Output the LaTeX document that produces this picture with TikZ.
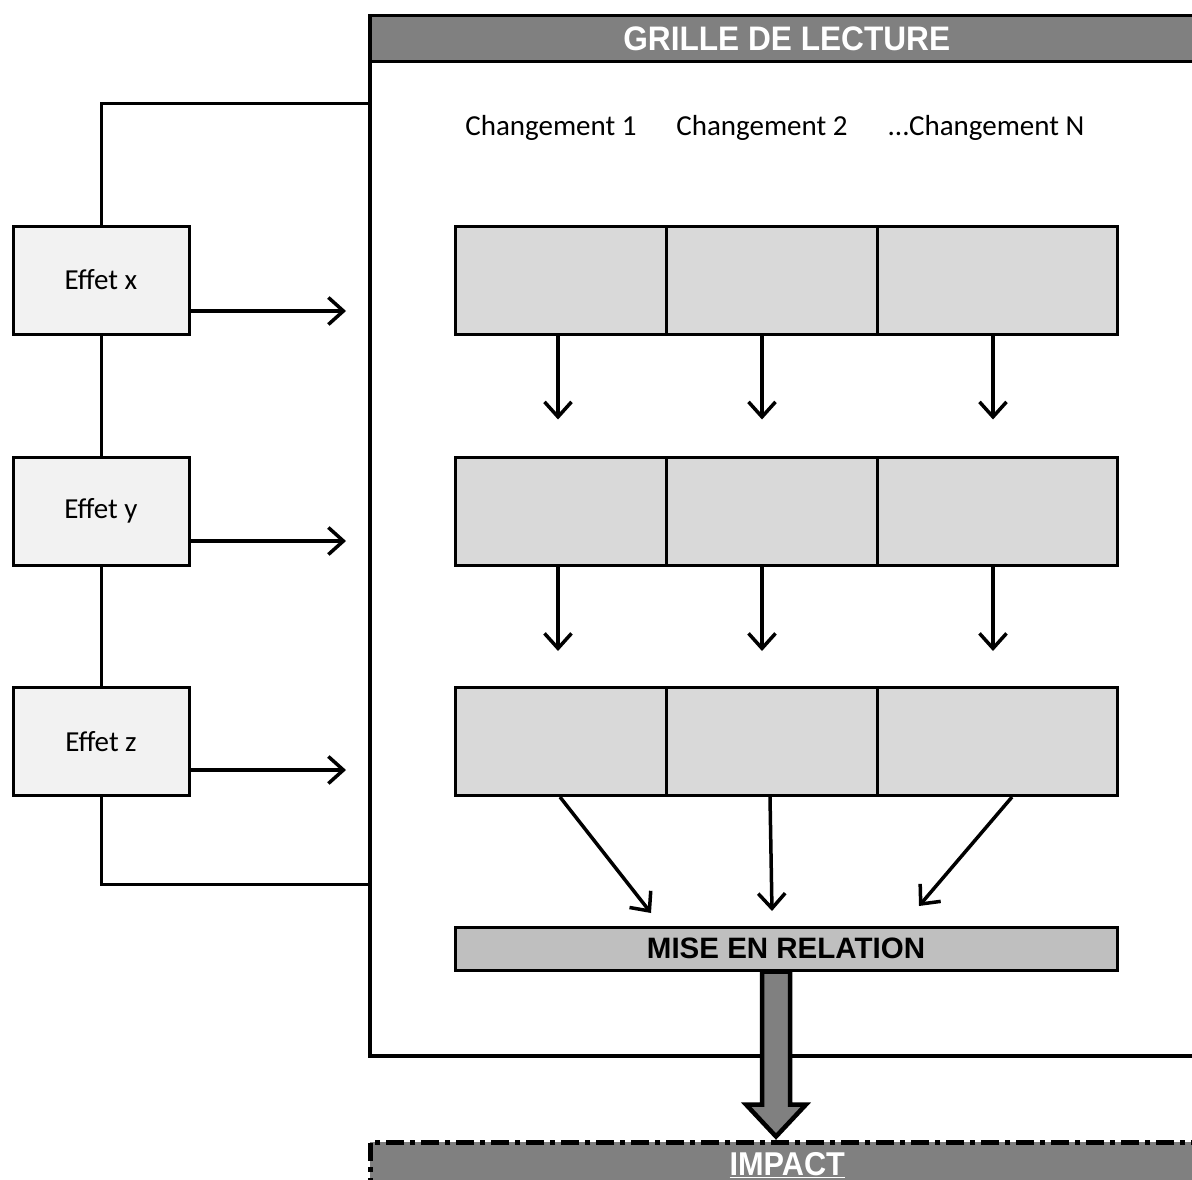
\documentclass[tikz,border=0pt]{standalone}
\usepackage{fontspec}
\setmainfont{Carlito}
\newfontfamily\arialf{Liberation Sans}
\newfontfamily\arialc{Liberation Sans}[FakeStretch=0.93]
\usetikzlibrary{arrows.meta,calc}
\begin{document}
\begin{tikzpicture}[x=1pt,y=-1pt,
  effet/.style={draw, line width=3pt, fill=black!5, minimum width=176pt, minimum height=108pt, inner sep=0pt, font=\fontsize{29}{32}\selectfont},
  cell/.style={draw, line width=3pt, fill=black!15, minimum height=108pt, inner sep=0pt},
  link/.style={line width=3pt},
  arr/.style={line width=3.5pt, -{Straight Barb[length=15pt,width=27pt]}},
  lbl/.style={font=\fontsize{29}{32}\selectfont, inner sep=0pt},
  bigarr/.style={line width=4.5pt, fill=black!50, line join=miter}
]
\useasboundingbox (0,0) rectangle (1192,1180);
% frame
\node[draw, line width=3.5pt, anchor=north west, minimum width=834pt, minimum height=1040pt, inner sep=0pt] (frame) at (368,14) {};
\node[draw, line width=3.5pt, fill=black!50, anchor=north west, minimum width=834pt, minimum height=46pt, inner sep=0pt,
      font=\arialc\bfseries\fontsize{34}{36}\selectfont, text=white] (title) at (368,14) {GRILLE DE LECTURE};
% column labels
\node[lbl] (l1) at (551,128) {Changement 1};
\node[lbl] (l2) at (762,128) {Changement 2};
\node[lbl] (l3) at (986,128) {...Changement N};
% cells
\foreach \r/\y in {1/280,2/511,3/741.5}{
  \node[cell, minimum width=211pt] (c\r1) at (560.5,\y) {};
  \node[cell, minimum width=211pt] (c\r2) at (771.5,\y) {};
  \node[cell, minimum width=240pt] (c\r3) at (997,\y) {};
}
% effects
\node[effet] (ex) at (101,280) {Effet x};
\node[effet] (ey) at (101,511) {Effet y};
\node[effet] (ez) at (101,741.5) {Effet z};
% left links
\draw[link] ([yshift=-90pt]frame.north west) -| (ex.north);
\draw[link] (ex.south) -- (ey.north);
\draw[link] (ey.south) -- (ez.north);
\draw[link] (ez.south) |- ([yshift=173pt]frame.south west);
% horizontal arrows
\coordinate (hx) at (346,311);
\coordinate (hy) at (346,541);
\coordinate (hz) at (346,770);
\draw[arr] ([yshift=-31pt]ex.east) -- (hx);
\draw[arr] ([yshift=-30pt]ey.east) -- (hy);
\draw[arr] ([yshift=-28.5pt]ez.east) -- (hz);
% vertical arrows
\draw[arr, shorten >=36pt] ([xshift=-2.5pt]c11.south) -- ([xshift=-2.5pt]c21.north);
\draw[arr, shorten >=36pt] ([xshift=-9.5pt]c12.south) -- ([xshift=-9.5pt]c22.north);
\draw[arr, shorten >=36pt] ([xshift=-4pt]c13.south) -- ([xshift=-4pt]c23.north);
\draw[arr, shorten >=35pt] ([xshift=-2.5pt]c21.south) -- ([xshift=-2.5pt]c31.north);
\draw[arr, shorten >=35pt] ([xshift=-9.5pt]c22.south) -- ([xshift=-9.5pt]c32.north);
\draw[arr, shorten >=35pt] ([xshift=-4pt]c23.south) -- ([xshift=-4pt]c33.north);
% mise en relation
\node[draw, line width=3pt, fill=black!25, minimum width=662pt, minimum height=43pt, inner sep=0pt,
      font=\arialf\bfseries\fontsize{29.5}{31}\selectfont] (mise) at (786,948.5) {MISE EN RELATION};
% diagonal arrows
\coordinate (t1) at (651,913);
\coordinate (t2) at (772,911);
\coordinate (t3) at (919,906);
\draw[arr] ([xshift=-0.5pt]c31.south) -- (t1);
\draw[arr] ([xshift=-1.5pt]c32.south) -- (t2);
\draw[arr] ([xshift=15pt]c33.south) -- (t3);
% impact
\node[draw, line width=4.5pt, dash pattern=on 18pt off 6pt on 5pt off 6pt, fill=black!50, anchor=north west,
      minimum width=834pt, minimum height=46pt, inner sep=0pt,
      font=\arialc\bfseries\fontsize{33}{34}\selectfont, text=white] (impact) at (368,1140) {\underline{IMPACT}};
% big arrow
\draw[bigarr] ($(mise.south)+(-24,0)$) -- ($(mise.south)+(-24,133)$) -- ($(mise.south)+(-40,133)$)
  -- ($(mise.south)+(-10,165)$) -- ($(mise.south)+(20,133)$) -- ($(mise.south)+(4,133)$) -- ($(mise.south)+(4,0)$) -- cycle;
\end{tikzpicture}
\end{document}
